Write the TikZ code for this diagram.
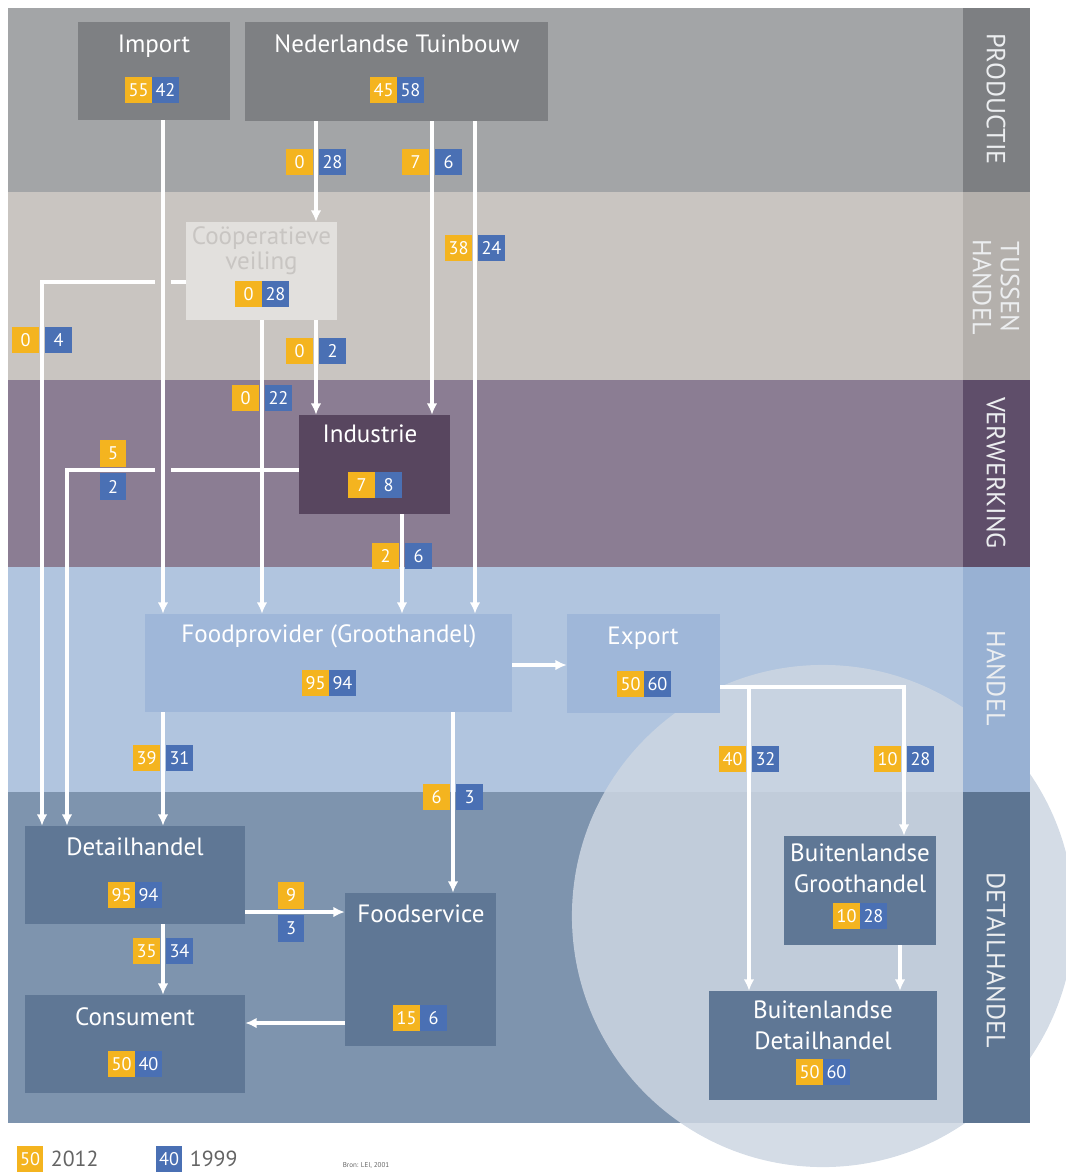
\documentclass[tikz,border=0pt]{standalone}
\usepackage{fontspec}
\setmainfont{PT Sans}
\usetikzlibrary{arrows.meta}

\definecolor{prodband}{RGB}{163,165,167}
\definecolor{prodtab}{RGB}{125,127,130}
\definecolor{prodbox}{RGB}{126,128,131}
\definecolor{tusband}{RGB}{201,197,193}
\definecolor{tustab}{RGB}{180,176,172}
\definecolor{veilbox}{RGB}{226,224,221}
\definecolor{veiltext}{RGB}{200,197,194}
\definecolor{verwband}{RGB}{139,125,147}
\definecolor{verwtab}{RGB}{95,78,106}
\definecolor{indbox}{RGB}{88,70,95}
\definecolor{handband}{RGB}{177,197,223}
\definecolor{handtab}{RGB}{152,177,211}
\definecolor{handbox}{RGB}{159,183,217}
\definecolor{detband}{RGB}{126,148,174}
\definecolor{dettab}{RGB}{93,117,146}
\definecolor{detbox}{RGB}{95,119,149}
\definecolor{cirkel}{RGB}{205,214,226}
\definecolor{geel}{RGB}{244,180,31}
\definecolor{blauw}{RGB}{74,112,180}
\definecolor{tabtext}{RGB}{236,238,240}
\definecolor{legtext}{RGB}{100,100,100}

\tikzset{
  box/.style={rectangle, inner sep=0pt},
  titel/.style={text=white, font=\fontsize{17.8}{22}\selectfont, align=center, inner sep=0pt},
  jaar12/.style={fill=geel, text=white, minimum width=0.66cm, minimum height=0.66cm,
    inner sep=0pt, font=\fontsize{13}{13}\selectfont},
  jaar99/.style={jaar12, fill=blauw},
  lijn/.style={draw=white, line width=2.6pt},
  stroom/.style={lijn, -{Latex[length=8pt,width=7.5pt]}},
  fase/.style={text=tabtext, rotate=-90, font=\fontsize{18.6}{20}\selectfont, align=center, inner sep=0pt},
}

% pair of numbers, 2012 left and 1999 right
\newcommand{\duo}[5]{%
  \node[jaar12, anchor=east] (#1-12) at (#2,#3) {#4};
  \node[jaar99, anchor=west] (#1-99) at (#2,#3) {#5};}
% same, but with a line running between them
\newcommand{\splitduo}[5]{%
  \node[jaar12, anchor=east] (#1-12) at (#2-3,#3) {#4};
  \node[jaar99, anchor=west] (#1-99) at (#2+3,#3) {#5};}

\begin{document}
\begin{tikzpicture}[x=0.025cm, y=-0.025cm]
\useasboundingbox (0,0) rectangle (1066,1173);

% draw bands
\fill[prodband] (8,8) rectangle (963,192);
\fill[tusband] (8,192) rectangle (963,380);
\fill[verwband] (8,380) rectangle (963,567);
\fill[handband] (8,567) rectangle (963,792);
\fill[detband] (8,792) rectangle (963,1123);

% draw circle
\fill[cirkel, fill opacity=0.85] (823,916) circle[radius=6.275cm];

% draw band tabs
\fill[prodtab] (963,8) rectangle (1030,192);
\fill[tustab] (963,192) rectangle (1030,380);
\fill[verwtab] (963,380) rectangle (1030,567);
\fill[handtab] (963,567) rectangle (1030,792);
\fill[dettab] (963,792) rectangle (1030,1123);

\node[fase] (f1) at (996,99) {PRODUCTIE};
\node[fase] (f2) at (996,287) {TUSSEN\\HANDEL};
\node[fase] (f3) at (996,473) {VERWERKING};
\node[fase] (f4) at (996,678) {HANDEL};
\node[fase] (f5) at (996,960) {DETAILHANDEL};

% draw boxes
\node[box, fill=prodbox, minimum width=3.8cm, minimum height=2.45cm] (import) at (154,71) {};
\node[box, fill=prodbox, minimum width=7.575cm, minimum height=2.475cm] (tuin) at (396.5,71.5) {};
\node[box, fill=veilbox, minimum width=3.775cm, minimum height=2.45cm] (veil) at (261.5,271) {};
\node[box, fill=indbox, minimum width=3.775cm, minimum height=2.475cm] (ind) at (374.5,464.5) {};
\node[box, fill=handbox, minimum width=9.175cm, minimum height=2.45cm] (fp) at (328.5,663) {};
\node[box, fill=handbox, minimum width=3.825cm, minimum height=2.475cm] (export) at (643.5,663.5) {};
\node[box, fill=detbox, minimum width=5.5cm, minimum height=2.45cm] (det) at (135,875) {};
\node[box, fill=detbox, minimum width=3.775cm, minimum height=3.825cm] (fs) at (420.5,969.5) {};
\node[box, fill=detbox, minimum width=5.5cm, minimum height=2.45cm] (cons) at (135,1044) {};
\node[box, fill=detbox, minimum width=3.8cm, minimum height=2.725cm] (bg) at (860,890.5) {};
\node[box, fill=detbox, minimum width=5.7cm, minimum height=2.725cm] (bd) at (823,1045.5) {};

% draw titles
\node[titel, anchor=base] (import-t) at (154,52) {Import};
\node[titel, anchor=base] (tuin-t) at (397,52) {Nederlandse Tuinbouw};
\node[titel, text=veiltext, font=\fontsize{17.8}{18}\selectfont] (veil-t) at (261.5,251) {Coöperatieve\\veiling};
\node[titel, anchor=base] (ind-t) at (370,442) {Industrie};
\node[titel, anchor=base] (fp-t) at (329,642) {Foodprovider (Groothandel)};
\node[titel, anchor=base] (export-t) at (643,644) {Export};
\node[titel, anchor=base] (det-t) at (135,855) {Detailhandel};
\node[titel, anchor=base] (fs-t) at (421,922) {Foodservice};
\node[titel, anchor=base] (cons-t) at (135,1025) {Consument};
\node[titel] (bg-t) at (860,868) {Buitenlandse\\Groothandel};
\node[titel] (bd-t) at (823,1025) {Buitenlandse\\Detailhandel};

% line positions
\coordinate (k1) at (42,0);
\coordinate (k2) at (67,0);
\coordinate (k3) at (163,0);
\coordinate (k4) at (262,0);
\coordinate (k5) at (316,0);
\coordinate (k6) at (402,0);
\coordinate (k7) at (432,0);
\coordinate (k8) at (453,0);
\coordinate (k9) at (475,0);
\coordinate (k10) at (749,0);
\coordinate (k11) at (904,0);
\coordinate (k12) at (900,0);
\coordinate (r1) at (0,282);
\coordinate (r2) at (0,470);
\coordinate (r3) at (0,665);
\coordinate (r4) at (0,687);
\coordinate (r5) at (0,912);
\coordinate (r6) at (0,1023);

% draw vertical flows
\draw[stroom] (import.south -| k3) -- (fp.north -| k3);
\draw[stroom] (tuin.south -| k5) -- (veil.north -| k5);
\draw[stroom] (tuin.south -| k7) -- (ind.north -| k7);
\draw[stroom] (tuin.south -| k9) -- (fp.north -| k9);
\draw[stroom] (veil.south -| k5) -- (ind.north -| k5);
\draw[stroom] (veil.south -| k4) -- (fp.north -| k4);
\draw[stroom] (ind.south -| k6) -- (fp.north -| k6);
\draw[stroom] (fp.south -| k3) -- (det.north -| k3);
\draw[stroom] (fp.south -| k8) -- (fs.north -| k8);
\draw[stroom] (det.south -| k3) -- (cons.north -| k3);
\draw[stroom] (bg.south -| k12) -- (bd.north -| k12);

% draw flows with a bend, broken where they cross
\coordinate (hop1a) at (171,282);
\coordinate (hop1b) at (155,282);
\coordinate (hop2a) at (171,470);
\coordinate (hop2b) at (155,470);
\draw[lijn] (veil.west |- r1) -- (hop1a);
\draw[stroom] (hop1b) -- (hop1b -| k1) -- (det.north -| k1);
\draw[lijn] (ind.west |- r2) -- (hop2a);
\draw[stroom] (hop2b) -- (hop2b -| k2) -- (det.north -| k2);
\draw[stroom] (export.east |- r4) -- (r4 -| k10) -- (bd.north -| k10);
\draw[stroom] (export.east |- r4) -- (r4 -| k11) -- (bg.north -| k11);

% draw horizontal flows
\draw[stroom] (fp.east |- r3) -- (export.west |- r3);
\draw[stroom] (det.east |- r5) -- (fs.west |- r5);
\draw[stroom] (fs.west |- r6) -- (cons.east |- r6);

% draw numbers in boxes
\duo{import}{152}{90}{55}{42}
\duo{tuin}{397}{90}{45}{58}
\duo{veil}{262}{294}{0}{28}
\duo{ind}{375}{485}{7}{8}
\duo{fp}{329}{683}{95}{94}
\duo{export}{644}{684}{50}{60}
\duo{det}{135}{895}{95}{94}
\duo{fs}{420}{1018}{15}{6}
\duo{cons}{135}{1064}{50}{40}
\duo{bg}{860}{916}{10}{28}
\duo{bd}{823}{1072}{50}{60}

% draw numbers on flows
\splitduo{e1}{316}{162}{0}{28}
\splitduo{e2}{432}{162}{7}{6}
\splitduo{e3}{475}{248}{38}{24}
\splitduo{e4}{42}{340}{0}{4}
\splitduo{e5}{316}{351}{0}{2}
\splitduo{e6}{262}{398}{0}{22}
\splitduo{e7}{402}{556}{2}{6}
\splitduo{e8}{163}{758}{39}{31}
\splitduo{e9}{453}{797}{6}{3}
\splitduo{e10}{749}{759}{40}{32}
\splitduo{e11}{904}{759}{10}{28}
\splitduo{e12}{163}{951}{35}{34}
\node[jaar12, anchor=south] (e13-12) at (113,467) {5};
\node[jaar99, anchor=north] (e13-99) at (113,473) {2};
\node[jaar12, anchor=south] (e14-12) at (291,909) {9};
\node[jaar99, anchor=north] (e14-99) at (291,915) {3};

% draw legend
\node[jaar12] (leg-12) at (30,1159) {50};
\node[anchor=west, text=legtext, font=\fontsize{15.5}{16}\selectfont] (leg-12t) at (46,1159) {2012};
\node[jaar99] (leg-99) at (169,1159) {40};
\node[anchor=west, text=legtext, font=\fontsize{15.5}{16}\selectfont] (leg-99t) at (185,1159) {1999};
\node[text=legtext, font=\fontsize{5}{5}\selectfont] (bron) at (366,1166) {Bron: LEI, 2001};

\end{tikzpicture}
\end{document}
